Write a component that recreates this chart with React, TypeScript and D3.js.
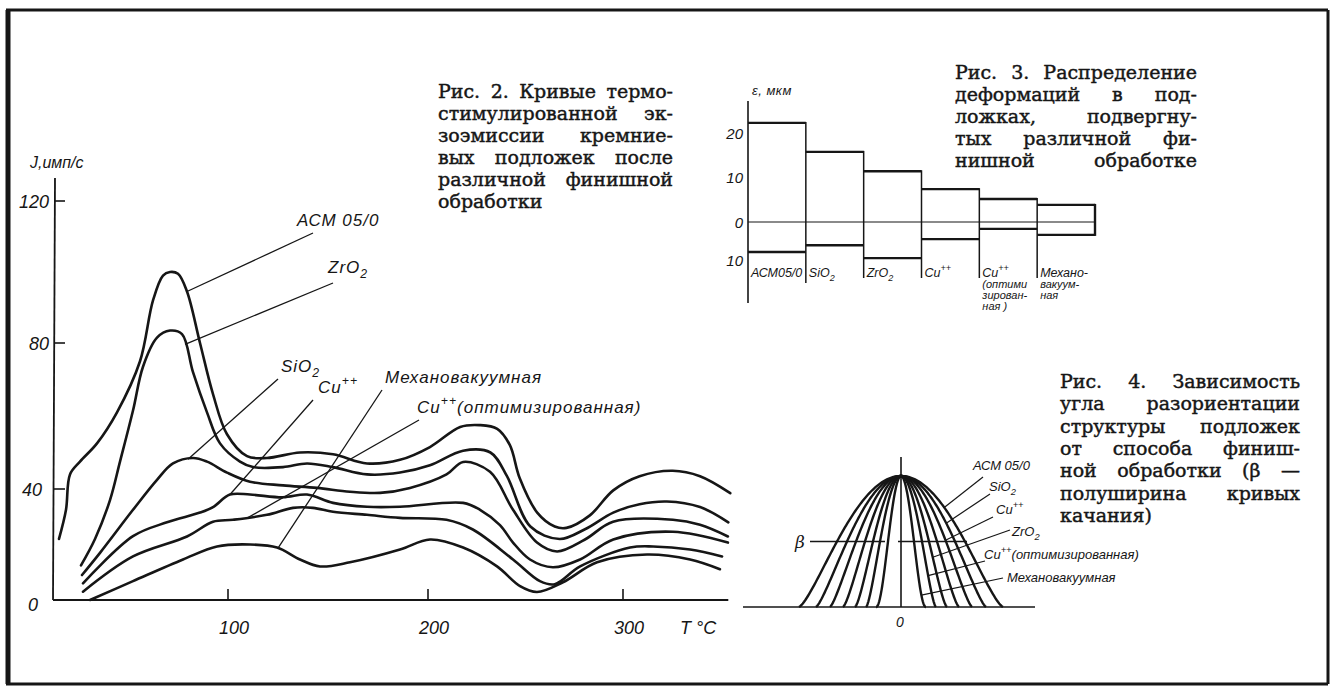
import React, { useLayoutEffect, useRef } from "react";
import * as d3 from "d3";

const W = 1334;
const H = 688;
const INK = "#161616";
const HAND = "'Liberation Sans', 'DejaVu Sans', sans-serif";
const SERIF = "'DejaVu Serif', 'Liberation Serif', serif";

type Pt = [number, number];

// ---------- Fig. 2: exoemission J (imp/s) versus temperature T (°C) ----------
const tempTicks = [100, 200, 300];
const emissionTicks = [0, 40, 80, 120];

const emissionACM: Pt[] = [
  [15.5, 22], [19, 32.5], [21, 44], [26, 47.5], [34.5, 52.5], [44.5, 61], [56, 75], [62.5, 92],
  [67.5, 99], [71, 100], [75, 99.5], [79.5, 94.5], [86, 80], [92.5, 66], [99.5, 55], [109.5, 49],
  [119.5, 48.5], [136, 50], [152.5, 49.5], [169.5, 47], [186, 48], [201, 51.5], [216.5, 57],
  [226.5, 57.5], [235.5, 56.5], [242, 52], [247, 43], [256, 31.5], [265, 26.5], [271, 26],
  [283, 30.5], [295, 39.5], [308.5, 43.5], [325.5, 45], [339.5, 43.5], [355, 38.5],
];
const emissionZrO2: Pt[] = [
  [26.5, 12.5], [33.5, 22], [41, 36], [46, 47.5], [52.5, 61.5], [57.5, 73.5], [64.5, 81.5],
  [71, 83.5], [77, 82.5], [82.5, 72], [89.5, 61], [96, 52.5], [106, 47.5], [112.5, 46],
  [127.5, 46], [139.5, 47], [152.5, 46], [169.5, 44], [186, 44.5], [201, 46.5], [218, 50.5],
  [232, 50], [240.5, 43.5], [252.5, 26.5], [267.5, 22], [280.5, 25.5], [295, 31.5],
  [308.5, 34.5], [322.5, 35.5], [339.5, 33.5], [354, 28],
];
const emissionSiO2: Pt[] = [
  [27, 9], [36, 17], [52.5, 32.5], [64.5, 42.5], [72.5, 47], [82.5, 48.5], [89.5, 47.5],
  [99.5, 44.5], [111, 42], [127.5, 41], [144.5, 40.3], [161, 39], [176, 38.6], [191, 40.3],
  [209.5, 44], [218, 47.4], [231.8, 44.7], [243.6, 32.5], [255.9, 20.7], [266.2, 17.5],
  [280.5, 21.8], [294.9, 28.2], [325.6, 28.9], [339.5, 27.1], [353.8, 22.9],
];
const emissionCu: Pt[] = [
  [27.5, 6], [52.5, 23], [69.5, 28], [86, 31.5], [92.5, 33.5], [101, 38], [111, 38],
  [127.5, 37], [139.5, 38], [152.5, 35], [169.5, 33.6], [186, 33.6], [218, 35], [226.7, 32.5],
  [236.9, 27], [243.6, 20.7], [252.3, 14.6], [264, 11.8], [278, 14.6], [295, 21.8],
  [325.6, 24.6], [353.8, 20.7],
];
const emissionCuOpt: Pt[] = [
  [27.5, 3], [52.5, 15.7], [79.5, 22.9], [92.5, 28.2], [102.5, 28.9], [119.5, 30.7],
  [132.5, 33.2], [142.5, 33.2], [152.5, 31.8], [169.5, 30.7], [186, 29.6], [209.5, 28.9],
  [223, 25.4], [243.6, 14.6], [257.4, 6.8], [265, 5.7], [278, 12.1], [303.6, 18.9],
  [315.4, 19.3], [334.4, 18.2], [350.8, 15.7],
];
const emissionMech: Pt[] = [
  [31, 0], [52.5, 6.8], [77.5, 14.6], [94.5, 19.3], [111, 20], [124.5, 18.9], [136, 14.6],
  [146, 12.1], [161, 13.6], [186, 18.2], [201, 21.8], [218, 18.9], [235.4, 12.1], [247.2, 5],
  [255.9, 2.9], [269.2, 6.4], [286.7, 13.6], [312.3, 16.4], [334.4, 14.6], [349.7, 11.1],
];
const emissionSeries = [emissionACM, emissionZrO2, emissionSiO2, emissionCu, emissionCuOpt, emissionMech];

// label text, series, temperature where the leader touches the curve, label anchor, leader end
const emissionLabels = [
  { text: "АСМ 05/0", series: emissionACM, at: 79.5, lx: 297, ly: 226, tx: 313, ty: 233 },
  { text: "ZrO_{2}", series: emissionZrO2, at: 78.5, lx: 328, ly: 273, tx: 333, ty: 283 },
  { text: "SiO_{2}", series: emissionSiO2, at: 80, lx: 281, ly: 372, tx: 278, ty: 379 },
  { text: "Cu^{++}", series: emissionCu, at: 101, lx: 318, ly: 393, tx: 313, ty: 400 },
  { text: "Механовакуумная", series: emissionMech, at: 125, lx: 385, ly: 383, tx: 382, ty: 390 },
  { text: "Cu^{++}(оптимизированная)", series: emissionCuOpt, at: 110, lx: 417, ly: 413, tx: 419, ty: 420 },
];
// horizontal nudges of the hand-placed J tick numbers
const emissionTickShift: Record<number, number> = { 0: -11, 40: -7, 80: 0, 120: 0 };

const fig2Caption = [
  "Рис. 2. Кривые термо-",
  "стимулированной эк-",
  "зоэмиссии кремние-",
  "вых подложек после",
  "различной финишной",
  "обработки",
];

// ---------- Fig. 3: deformation ε (µm) per finishing method ----------
const deformMethods = ["АСМ 05/0", "SiO2", "ZrO2", "Cu++", "Cu++ опт.", "Механовакуумная"];
const deformUpper = [22.3, 15.7, 11.3, 7.3, 5.1, 3.8];
const deformLower = [-7.9, -6.1, -9.5, -4.5, -1.8, -3.4];
const deformTicks = [20, 10, 0, -10];
const deformLabelLines = [
  ["АСМ05/0"],
  ["SiO_{2}"],
  ["ZrO_{2}"],
  ["Cu^{++}"],
  ["Cu^{++}", "(оптими", "зирован-", "ная )"],
  ["Механо-", "вакуум-", "ная"],
];

const fig3Caption = [
  "Рис. 3. Распределение",
  "деформаций в под-",
  "ложках, подвергну-",
  "тых различной фи-",
  "нишной обработке",
];

// ---------- Fig. 4: rocking curves, half-width at half height (β) and foot half-width ----------
const rockingBeta = [13, 21, 28, 36, 45, 54, 64];
const rockingFoot = [25, 35, 46, 58, 71, 85, 102];
const rockingLabels = [
  { text: "АСМ 05/0", curve: 6, h: 0.76, lx: 973, ly: 470, tx: 983, ty: 477 },
  { text: "SiO_{2}", curve: 5, h: 0.64, lx: 989, ly: 491, tx: 990, ty: 494 },
  { text: "Cu^{++}", curve: 4, h: 0.51, lx: 996, ly: 514, tx: 993, ty: 517 },
  { text: "ZrO_{2}", curve: 2, h: 0.38, lx: 1012, ly: 536, tx: 1010, ty: 530 },
  { text: "Cu^{++}(оптимизированная)", curve: 1, h: 0.24, lx: 984, ly: 559, tx: 985, ty: 561 },
  { text: "Механовакуумная", curve: 0, h: 0.09, lx: 1007, ly: 582, tx: 1003, ty: 578 },
];

const fig4Caption = [
  "Рис. 4. Зависимость",
  "угла разориентации",
  "структуры подложек",
  "от способа финиш-",
  "ной обработки (β —",
  "полуширина кривых",
  "качания)",
];

// ---------- scales ----------
const xT = d3.scaleLinear().domain([100, 200, 300]).range([228, 428, 623]);
const yJ = d3.scaleLinear().domain([0, 40, 80, 120]).range([600, 489, 343, 201]);

const xD = d3.scaleBand<string>().domain(deformMethods).range([748, 1095]).padding(0);
const yD = d3.scaleLinear().domain([-10, 0, 10, 20]).range([260, 222, 177, 133]);

const xR = d3.scaleLinear().domain([-100, 100]).range([801, 1001]);
const yR = d3.scaleLinear().domain([0, 1]).range([607, 476]);

function valueAt(series: Pt[], t: number): number {
  for (let i = 0; i < series.length - 1; i++) {
    const [t0, v0] = series[i];
    const [t1, v1] = series[i + 1];
    if (t >= t0 && t <= t1) return v0 + ((t - t0) / (t1 - t0)) * (v1 - v0);
  }
  return series[series.length - 1][1];
}

// bell-shaped rocking curve reaching zero at ±foot, half height at ±beta
function rockingExponent(beta: number, foot: number) {
  return Math.log(0.5) / Math.log(1 - (beta / foot) ** 2);
}
function rockingCurve(beta: number, foot: number): Pt[] {
  const k = rockingExponent(beta, foot);
  return d3.range(-foot, foot + 1e-6, foot / 80).map((x) => {
    const u = Math.max(0, 1 - (x / foot) ** 2);
    return [x, Math.pow(u, k)] as Pt;
  });
}
function rockingX(beta: number, foot: number, h: number) {
  const k = rockingExponent(beta, foot);
  return foot * Math.sqrt(1 - Math.pow(h, 1 / k));
}

const emissionLine = d3
  .line<Pt>()
  .x((d) => xT(d[0]))
  .y((d) => yJ(d[1]))
  .curve(d3.curveCatmullRom.alpha(0.5));

const rockingLine = d3
  .line<Pt>()
  .x((d) => xR(d[0]))
  .y((d) => yR(d[1]));

// text with _{sub} and ^{sup} markup
function Rich({
  x, y, text, size, anchor = "start", family = HAND, italic = true, spacing = 0.6,
}: {
  x: number; y: number; text: string; size: number; anchor?: string; family?: string; italic?: boolean; spacing?: number;
}) {
  const parts = text.split(/(_\{[^}]*\}|\^\{[^}]*\})/).filter((s) => s.length > 0);
  let shift = 0;
  const spans = parts.map((p, i) => {
    let content = p;
    let fs = size;
    let target = 0;
    if (p.startsWith("_{")) {
      content = p.slice(2, -1);
      fs = size * 0.72;
      target = size * 0.32;
    } else if (p.startsWith("^{")) {
      content = p.slice(2, -1);
      fs = size * 0.72;
      target = -size * 0.48;
    }
    const dy = target - shift;
    shift = target;
    return (
      <tspan key={i} dy={dy} fontSize={fs}>
        {content}
      </tspan>
    );
  });
  return (
    <text
      x={x}
      y={y}
      fontSize={size}
      fontFamily={family}
      fontStyle={italic ? "italic" : "normal"}
      textAnchor={anchor as any}
      letterSpacing={spacing}
      fill={INK}
      style={{ whiteSpace: "pre" }}
    >
      {spans}
    </text>
  );
}

// justified caption block, word gaps widened to fill the column
function Paragraph({
  x, y, width, lineHeight, lines, justifyLast = false, size = 19,
}: {
  x: number; y: number; width: number; lineHeight: number; lines: string[]; justifyLast?: boolean; size?: number;
}) {
  const ref = useRef<SVGGElement>(null);
  useLayoutEffect(() => {
    const g = d3.select(ref.current);
    g.selectAll("*").remove();
    lines.forEach((line, i) => {
      const words = line.split(" ");
      const baseline = y + i * lineHeight;
      const nodes = words.map((w) => g.append("text").attr("y", baseline).text(w));
      const widths = nodes.map((n) => (n.node() as SVGTextElement).getComputedTextLength());
      const total = d3.sum(widths);
      const isLast = i === lines.length - 1;
      const gap =
        (isLast && !justifyLast) || words.length < 2 ? size * 0.32 : (width - total) / (words.length - 1);
      let cx = x;
      nodes.forEach((n, j) => {
        n.attr("x", cx);
        cx += widths[j] + gap;
      });
    });
  }, [x, y, width, lineHeight, lines, justifyLast, size]);
  return <g ref={ref} fontFamily={SERIF} fontSize={size} fill={INK} stroke={INK} strokeWidth={0.45} />;
}

function Fig2() {
  const x0 = xT(12.5);
  const x1 = xT(354);
  const y0 = yJ(0);
  const yTop = yJ(126.5);
  return (
    <g>
      <line x1={x0 + 2} y1={yTop} x2={x0} y2={y0} stroke={INK} strokeWidth={1.8} />
      <line x1={x0} y1={y0} x2={x1} y2={y0} stroke={INK} strokeWidth={1.8} />
      {emissionTicks.filter((t) => t > 0).map((t) => (
        <line key={t} x1={x0 + 1} y1={yJ(t)} x2={x0 + 12} y2={yJ(t)} stroke={INK} strokeWidth={1.6} />
      ))}
      {emissionTicks.map((t) => (
        <Rich
          key={t}
          x={x0 - 4 + emissionTickShift[t]}
          y={yJ(t) + (t === 0 ? 11 : 7)}
          text={String(t)}
          size={18}
          anchor="end"
          spacing={0}
        />
      ))}
      {tempTicks.map((t) => (
        <g key={t}>
          <line x1={xT(t)} y1={y0} x2={xT(t)} y2={y0 - 11} stroke={INK} strokeWidth={1.6} />
          <Rich x={xT(t) + 6} y={y0 + 34} text={String(t)} size={18} anchor="middle" spacing={0} />
        </g>
      ))}
      <Rich x={680} y={y0 + 34} text="T °C" size={18} spacing={0} />
      <Rich x={30} y={168} text="J,имп/с" size={16} spacing={0} />

      {emissionSeries.map((s, i) => (
        <path
          key={i}
          d={emissionLine(s) ?? ""}
          fill="none"
          stroke={INK}
          strokeWidth={2.6}
          strokeLinejoin="round"
          strokeLinecap="round"
        />
      ))}

      {emissionLabels.map((l, i) => (
        <g key={i}>
          <line
            x1={xT(l.at)}
            y1={yJ(valueAt(l.series, l.at))}
            x2={l.tx}
            y2={l.ty}
            stroke={INK}
            strokeWidth={1.3}
          />
          <Rich x={l.lx} y={l.ly} text={l.text} size={17} spacing={1} />
        </g>
      ))}
    </g>
  );
}

function Fig3() {
  const bw = xD.bandwidth();
  const axisX = xD(deformMethods[0]) as number;
  const right = axisX + bw * deformMethods.length;
  return (
    <g>
      <line x1={axisX} y1={101} x2={axisX} y2={303} stroke={INK} strokeWidth={1.6} />
      <Rich x={752} y={95} text="ε, мкм" size={13} spacing={0.5} />
      {deformTicks.map((t) => (
        <Rich key={t} x={axisX - 5} y={yD(t) + 6} text={String(Math.abs(t))} size={15} anchor="end" spacing={0} />
      ))}
      <line x1={axisX} y1={yD(0)} x2={right} y2={yD(0)} stroke={INK} strokeWidth={1.2} />
      {deformMethods.map((m, i) => {
        const xl = xD(m) as number;
        const xr = xl + bw;
        const last = i === deformMethods.length - 1;
        return (
          <g key={m}>
            <line x1={xl} y1={yD(deformUpper[i])} x2={xr} y2={yD(deformUpper[i])} stroke={INK} strokeWidth={2.4} />
            <line x1={xl} y1={yD(deformLower[i])} x2={xr} y2={yD(deformLower[i])} stroke={INK} strokeWidth={2.4} />
            <line
              x1={xr}
              y1={yD(deformUpper[i]) - 1}
              x2={xr}
              y2={last ? yD(deformLower[i]) + 1 : i === 0 ? 283 : 278}
              stroke={INK}
              strokeWidth={last ? 2.4 : 1.5}
            />
            {deformLabelLines[i].map((s, j) => (
              <Rich key={j} x={xl + 3} y={277 + j * 11} text={s} size={j === 0 ? 12.5 : 11} spacing={0} />
            ))}
          </g>
        );
      })}
    </g>
  );
}

function Fig4() {
  const cx = xR(0);
  return (
    <g>
      <line x1={743} y1={yR(0)} x2={1035} y2={yR(0)} stroke={INK} strokeWidth={1.6} />
      <line x1={cx} y1={457} x2={cx} y2={yR(0)} stroke={INK} strokeWidth={1.6} />
      {rockingBeta.map((b, i) => (
        <path
          key={i}
          d={rockingLine(rockingCurve(b, rockingFoot[i])) ?? ""}
          fill="none"
          stroke={INK}
          strokeWidth={2.4}
        />
      ))}
      <line x1={810} y1={yR(0.5)} x2={cx - 16} y2={yR(0.5)} stroke={INK} strokeWidth={1.3} />
      <line x1={cx - 3} y1={yR(0.5)} x2={967} y2={yR(0.5)} stroke={INK} strokeWidth={1.3} />
      <Rich x={795} y={548} text="β" size={17} family={SERIF} spacing={0} />
      <Rich x={cx - 1} y={627} text="0" size={14} anchor="middle" spacing={0} />
      {rockingLabels.map((l, i) => {
        const xs = rockingX(rockingBeta[l.curve], rockingFoot[l.curve], l.h);
        return (
          <g key={i}>
            <line x1={xR(xs)} y1={yR(l.h)} x2={l.tx} y2={l.ty} stroke={INK} strokeWidth={1.2} />
            <Rich x={l.lx} y={l.ly} text={l.text} size={13} spacing={0} />
          </g>
        );
      })}
    </g>
  );
}

export default function App() {
  return (
    <svg
      width={W}
      height={H}
      viewBox={`0 0 ${W} ${H}`}
      style={{ position: "fixed", left: 0, top: 0, background: "#fff" }}
    >
      <rect x={0} y={0} width={W} height={H} fill="#fff" />
      {/* frame */}
      <line x1={6} y1={10} x2={1328} y2={10} stroke={INK} strokeWidth={3} />
      <line x1={1328} y1={10} x2={1328} y2={684} stroke={INK} strokeWidth={3} />
      <line x1={6} y1={684} x2={1328} y2={684} stroke={INK} strokeWidth={3} />
      <line x1={8} y1={10} x2={8} y2={684} stroke={INK} strokeWidth={5} />

      <Fig2 />
      <Fig3 />
      <Fig4 />

      <Paragraph x={438} y={98} width={235} lineHeight={22} lines={fig2Caption} />
      <Paragraph x={955} y={79} width={242} lineHeight={22} lines={fig3Caption} justifyLast />
      <Paragraph x={1060} y={388} width={240} lineHeight={22.3} lines={fig4Caption} />
    </svg>
  );
}
